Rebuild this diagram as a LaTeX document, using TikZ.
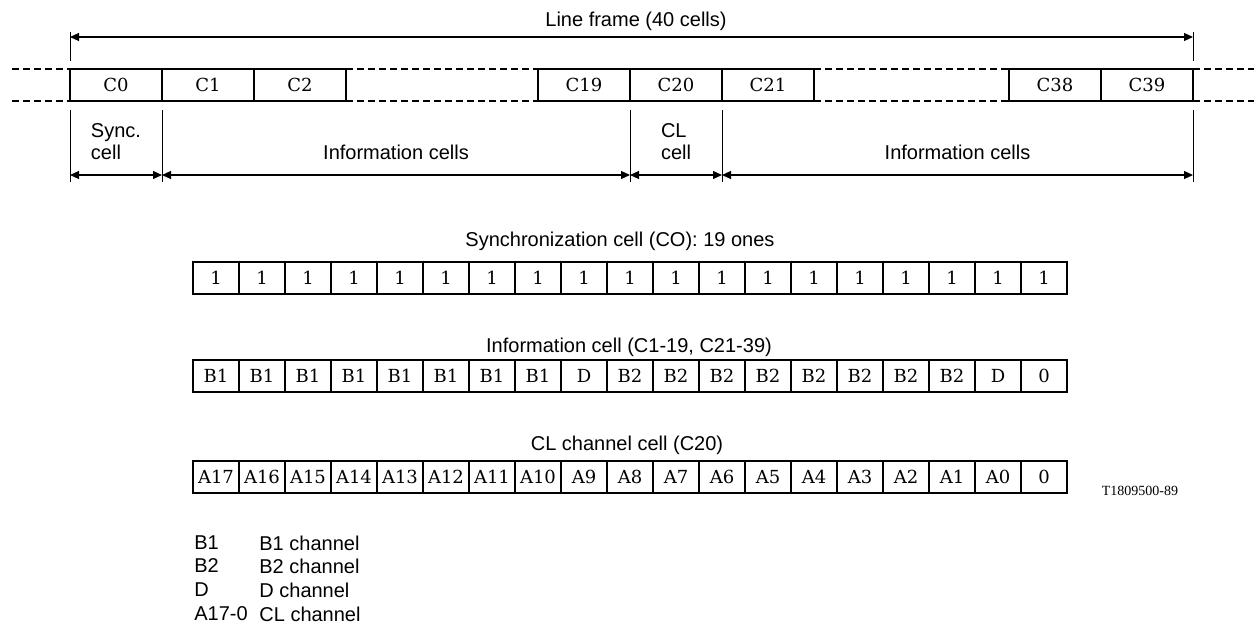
\documentclass[tikz,border=0pt]{standalone}
\usepackage{fontspec}
\setmainfont{Liberation Sans}
\newfontfamily\cellfont{DejaVu Serif}
\newfontfamily\tagfont{Liberation Serif}
\usepackage{tikz}
\usetikzlibrary{arrows.meta, positioning, calc}

\begin{document}
\begin{tikzpicture}[
    x=0.5pt, y=-0.5pt,
    font=\fontsize{10}{11}\selectfont,
    cell/.style={rectangle, draw, line width=0.8pt, minimum width=46pt,
        minimum height=16pt, inner sep=0pt, outer sep=0pt,
        font=\cellfont\fontsize{9}{10}\selectfont},
    bit/.style={cell, minimum width=23pt},
    dashln/.style={line width=0.8pt, dash pattern=on 3.5pt off 2pt},
    ext/.style={line width=0.5pt},
    dim/.style={{Triangle[length=4.5pt,width=4pt]}-{Triangle[length=4.5pt,width=4pt]},
        line width=0.6pt},
    lbl/.style={align=left},
    key/.style={anchor=west, inner sep=0pt}
]
\useasboundingbox (0,0) rectangle (1254,628);

% ===== LINE FRAME =====
\node[cell] (c0) at (116,85) {C0};
\node[cell, right=0pt of c0] (c1) {C1};
\node[cell, right=0pt of c1] (c2) {C2};
\node[cell] (c19) at (584,85) {C19};
\node[cell, right=0pt of c19] (c20) {C20};
\node[cell, right=0pt of c20] (c21) {C21};
\node[cell] (c38) at (1055,85) {C38};
\node[cell, right=0pt of c38] (c39) {C39};

\coordinate (lend) at (12,85);
\coordinate (rend) at (1254,85);
\draw[dashln] (lend |- c0.north) -- (c0.north west);
\draw[dashln] (lend |- c0.south) -- (c0.south west);
\draw[dashln] (c2.north east) -- (c19.north west);
\draw[dashln] (c2.south east) -- (c19.south west);
\draw[dashln] (c21.north east) -- (c38.north west);
\draw[dashln] (c21.south east) -- (c38.south west);
\draw[dashln] (c39.north east) -- (rend |- c39.north);
\draw[dashln] (c39.south east) -- (rend |- c39.south);

% frame length
\coordinate (f0) at (70,37);
\coordinate (f1) at (1193,37);
\draw[ext] ([yshift=2.5pt]f0) -- ([yshift=4pt]c0.north west);
\draw[ext] ([yshift=2.5pt]f1) -- ([yshift=4pt]c39.north east);
\draw[dim] (f0) -- (f1);
\node (title) at (636,21) {Line frame (40 cells)};

% cell groups
\coordinate (ay) at (0,175);
\coordinate (d0) at (c0.south west |- ay);
\coordinate (d1) at (c1.south west |- ay);
\coordinate (d2) at (c20.south west |- ay);
\coordinate (d3) at (c21.south west |- ay);
\coordinate (d4) at (c39.south east |- ay);
\draw[ext] ([yshift=-4.5pt]c0.south west) -- ([yshift=-3.5pt]d0);
\draw[ext] ([yshift=-4.5pt]c1.south west) -- ([yshift=-3.5pt]d1);
\draw[ext] ([yshift=-4.5pt]c20.south west) -- ([yshift=-3.5pt]d2);
\draw[ext] ([yshift=-4.5pt]c21.south west) -- ([yshift=-3.5pt]d3);
\draw[ext] ([yshift=-4.5pt]c39.south east) -- ([yshift=-3.5pt]d4);
\draw[dim] (d0) -- node[lbl, above=4pt] {Sync.\\cell} (d1);
\draw[dim] (d1) -- node[lbl, above=4pt] {Information cells} (d2);
\draw[dim] (d2) -- node[lbl, above=4pt] {CL\\cell} (d3);
\draw[dim] (d3) -- node[lbl, above=4pt] {Information cells} (d4);

% ===== CELL CONTENTS =====
\node (synct) at (620,241) {Synchronization cell (CO): 19 ones};
\foreach \k in {1,...,19}
    \node[bit] (s\k) at ({170+46*\k},278) {1};

\node (infot) at (629,347) {Information cell (C1-19, C21-39)};
\foreach \t [count=\k] in {B1,B1,B1,B1,B1,B1,B1,B1,D,B2,B2,B2,B2,B2,B2,B2,B2,D,0}
    \node[bit] (i\k) at ({170+46*\k},376) {\t};

\node (clt) at (627,445) {CL channel cell (C20)};
\foreach \t [count=\k] in {A17,A16,A15,A14,A13,A12,A11,A10,A9,A8,A7,A6,A5,A4,A3,A2,A1,A0,0}
    \node[bit] (a\k) at ({170+46*\k},477) {\t};

\node[font=\tagfont\fontsize{7}{8}\selectfont] (tag) at (1140,491) {T1809500-89};

% ===== KEY =====
\node[key] (k1) at (194,543) {B1};
\node[key] (k1t) at (259,543) {B1 channel};
\node[key] (k2) at (194,566) {B2};
\node[key] (k2t) at (259,566) {B2 channel};
\node[key] (k3) at (194,590) {D};
\node[key] (k3t) at (259,590) {D channel};
\node[key] (k4) at (194,614) {A17-0};
\node[key] (k4t) at (259,614) {CL channel};
\end{tikzpicture}
\end{document}
